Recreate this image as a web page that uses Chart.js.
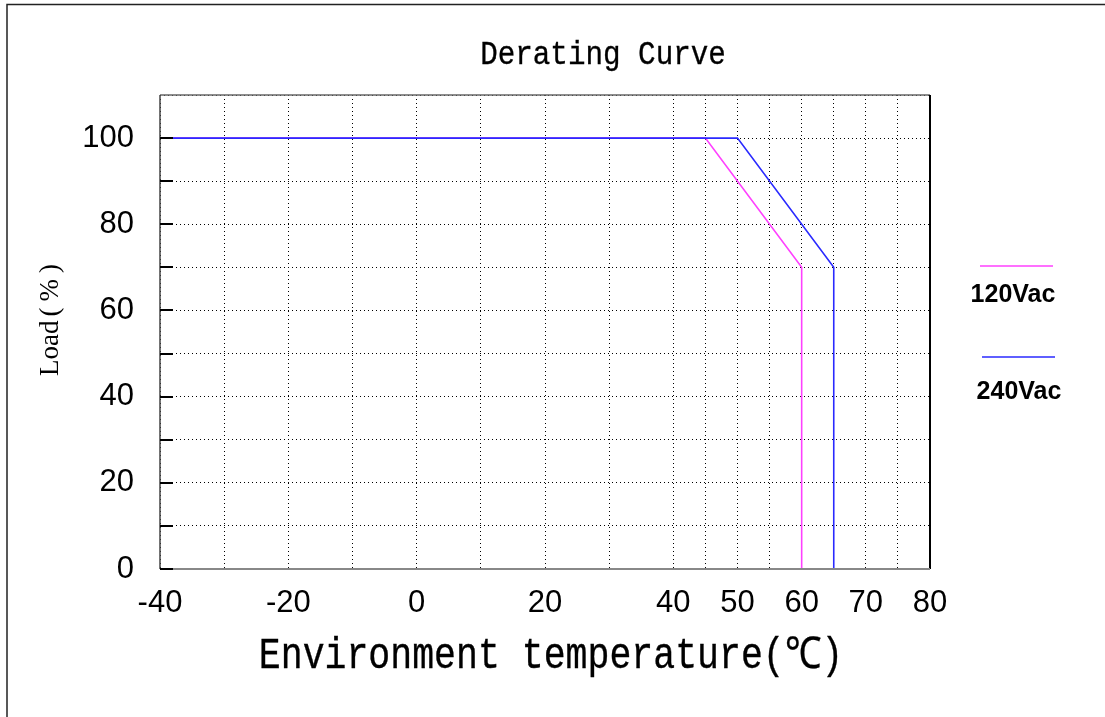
<!DOCTYPE html>
<html>
<head>
<title>Derating Curve</title>
<script src="https://cdn.jsdelivr.net/npm/chart.js"></script>
<style>
body { margin: 0; background: #fff; }
#wrap { position: relative; width: 1105px; height: 717px; }
</style>
</head>
<body>
<div id="wrap"><canvas id="derating"></canvas></div>
<script>
// curve values
const temp120 = [-40, 45, 60, 60];
const load120 = [100, 100, 70, 0];
const temp240 = [-40, 50, 65, 65];
const load240 = [100, 100, 70, 0];
const seriesNames = ['120Vac', '240Vac'];

// grid and labels
const xGridTicks = [-40, -30, -20, -10, 0, 10, 20, 30, 40, 45, 50, 55, 60, 65, 70, 75, 80];
const xTickLabels = [-40, -20, 0, 20, 40, 50, 60, 70, 80];
const yGridTicks = [0, 10, 20, 30, 40, 50, 60, 70, 80, 90, 100, 110];
const yTickLabels = [0, 20, 40, 60, 80, 100];

const toPoints = (xs, ys) => xs.map((x, i) => ({ x: x, y: ys[i] }));

// condensed mono text, the original uses a narrow typewriter face
function monoText(ctx, text, x, y, size, sx) {
    ctx.save();
    ctx.translate(x, y);
    ctx.scale(sx, 1);
    ctx.font = size + 'px "Liberation Mono", monospace';
    ctx.fillStyle = '#000';
    ctx.strokeStyle = '#000';
    ctx.lineWidth = 0.35;
    ctx.textAlign = 'center';
    ctx.textBaseline = 'middle';
    ctx.fillText(text, 0, 0);
    ctx.strokeText(text, 0, 0);
    ctx.restore();
}

const decorations = {
    id: 'decorations',
    afterDraw(chart) {
        const ctx = chart.ctx;
        const a = chart.chartArea;
        const ys = chart.scales.y;

        ctx.save();
        // outer frame (top and left only)
        ctx.strokeStyle = '#222';
        ctx.lineWidth = 1.5;
        ctx.beginPath();
        ctx.moveTo(7, 717);
        ctx.lineTo(7, 4.5);
        ctx.lineTo(1105, 4.5);
        ctx.stroke();

        // plot box
        ctx.lineWidth = 1.5;
        ctx.strokeStyle = '#666';
        ctx.beginPath();
        ctx.moveTo(a.left, a.top); ctx.lineTo(a.right, a.top);
        ctx.stroke();
        ctx.strokeStyle = '#444';
        ctx.beginPath();
        ctx.moveTo(a.left, a.top); ctx.lineTo(a.left, a.bottom);
        ctx.stroke();
        ctx.strokeStyle = '#000';
        ctx.lineWidth = 2;
        ctx.beginPath();
        ctx.moveTo(a.right, a.top); ctx.lineTo(a.right, a.bottom);
        ctx.stroke();
        ctx.strokeStyle = '#888';
        ctx.beginPath();
        ctx.moveTo(a.left, a.bottom); ctx.lineTo(a.right, a.bottom);
        ctx.stroke();

        // short inner tick marks on the left
        ctx.strokeStyle = '#000';
        ctx.lineWidth = 2;
        yGridTicks.forEach(v => {
            if (v >= 110) return;
            const py = Math.round(ys.getPixelForValue(v));
            ctx.beginPath();
            ctx.moveTo(a.left, py);
            ctx.lineTo(a.left + 13, py);
            ctx.stroke();
        });

        // titles
        monoText(ctx, 'Derating Curve', 603, 55, 34, 0.86);
        monoText(ctx, 'Environment temperature(\u2103)', 551, 656, 44, 0.83);

        // y title: "Load" tight, "(%)" wide like the original
        ctx.save();
        ctx.translate(51, 376);
        ctx.rotate(-Math.PI / 2);
        ctx.font = '27px "Liberation Serif", serif';
        ctx.fillStyle = '#000';
        ctx.textAlign = 'left';
        ctx.textBaseline = 'middle';
        ctx.fillText('Load', 0, 0);
        const w = ctx.measureText('Load').width;
        ctx.letterSpacing = '6px';
        ctx.fillText('(%)', w + 4, 0);
        ctx.restore();

        // legend: short line with the name under it
        const legendPos = [
            { x1: 980, x2: 1053, ly: 266, tx: 1013, ty: 295 },
            { x1: 982, x2: 1055, ly: 357, tx: 1019, ty: 392 }
        ];
        chart.data.datasets.forEach((ds, i) => {
            const p = legendPos[i];
            ctx.strokeStyle = ds.borderColor;
            ctx.lineWidth = 1.5;
            ctx.beginPath();
            ctx.moveTo(p.x1, p.ly); ctx.lineTo(p.x2, p.ly);
            ctx.stroke();
            ctx.font = 'bold 25px "Liberation Sans", Arial, sans-serif';
            ctx.fillStyle = '#000';
            ctx.textAlign = 'center';
            ctx.textBaseline = 'middle';
            ctx.fillText(ds.label, p.tx, p.ty);
        });
        ctx.restore();
    }
};

const ctx = document.getElementById('derating').getContext('2d');
new Chart(ctx, {
    type: 'line',
    data: {
        datasets: [
            {
                label: seriesNames[0],
                data: toPoints(temp120, load120),
                borderColor: '#ff40ff',
                borderWidth: 1.6,
                pointRadius: 0,
                tension: 0,
                order: 1
            },
            {
                label: seriesNames[1],
                data: toPoints(temp240, load240),
                borderColor: '#2a2aff',
                borderWidth: 1.6,
                pointRadius: 0,
                tension: 0,
                order: 0
            }
        ]
    },
    options: {
        responsive: true,
        maintainAspectRatio: false,
        animation: false,
        layout: { padding: { left: 0, right: 175, top: 95, bottom: 0 } },
        plugins: {
            legend: { display: false },
            title: { display: false },
            tooltip: { enabled: false }
        },
        scales: {
            x: {
                type: 'linear',
                min: -40,
                max: 80,
                afterBuildTicks: scale => { scale.ticks = xGridTicks.map(v => ({ value: v })); },
                afterFit: scale => { scale.height = 148; },
                grid: {
                    color: '#000',
                    lineWidth: 1,
                    drawTicks: false
                },
                border: { display: false, dash: [1, 3] },
                ticks: {
                    autoSkip: false,
                    maxRotation: 0,
                    padding: 16,
                    color: '#000',
                    font: { family: '"Liberation Sans", Arial, sans-serif', size: 31 },
                    callback: v => xTickLabels.includes(v) ? String(v) : ''
                }
            },
            y: {
                type: 'linear',
                min: 0,
                max: 110,
                afterBuildTicks: scale => { scale.ticks = yGridTicks.map(v => ({ value: v })); },
                afterFit: scale => { scale.width = 160; },
                grid: {
                    color: '#000',
                    lineWidth: 1,
                    drawTicks: false
                },
                border: { display: false, dash: [1, 3] },
                ticks: {
                    autoSkip: false,
                    padding: 26,
                    color: '#000',
                    font: { family: '"Liberation Sans", Arial, sans-serif', size: 31 },
                    callback: v => yTickLabels.includes(v) ? String(v) : ''
                }
            }
        }
    },
    plugins: [decorations]
});
</script>
</body>
</html>
